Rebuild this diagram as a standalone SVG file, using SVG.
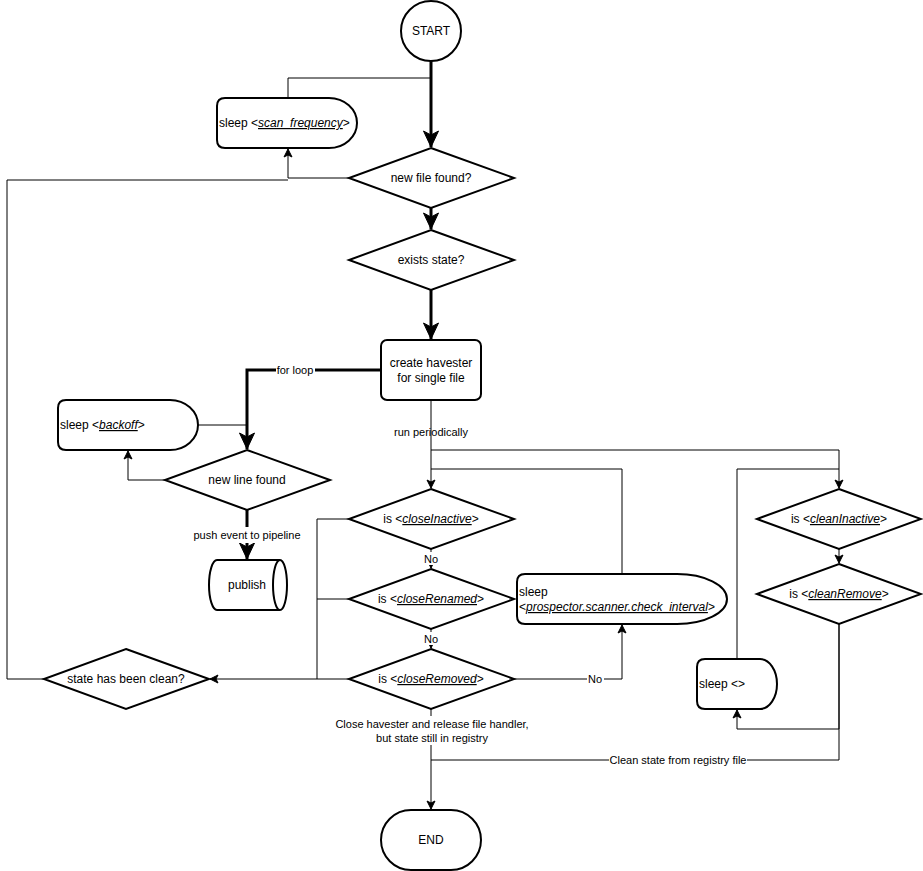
<svg xmlns="http://www.w3.org/2000/svg" width="923" height="871" viewBox="0 0 923 871">
<style>
.s{fill:#fff;stroke:#000;stroke-width:2}
.e{fill:none;stroke:#000;stroke-width:1}
.t{fill:none;stroke:#000;stroke-width:3}
text{font-family:"Liberation Sans",Arial,sans-serif;font-size:12px;fill:#000}
.c{text-anchor:middle}
.l{font-size:11px;text-anchor:middle}
.u{font-style:italic;text-decoration:underline}
.bg{fill:#fff;stroke:none}
</style>
<defs>
<marker id="a" markerUnits="userSpaceOnUse" markerWidth="10" markerHeight="10" refX="9" refY="5" orient="auto" viewBox="0 0 10 10">
<path d="M1,1 L9,5 L1,9 L3,5 Z" fill="#000" stroke="#000" stroke-width="1"/>
</marker>
<marker id="b" markerUnits="userSpaceOnUse" markerWidth="18" markerHeight="18" refX="17" refY="9" orient="auto" viewBox="0 0 18 18">
<path d="M1,1.5 L17,9 L1,16.5 L5,9 Z" fill="#000" stroke="#000" stroke-width="1"/>
</marker>
</defs>
<g id="connectors">
<path class="t" d="M431,61 L431,147" marker-end="url(#b)"/>
<path class="e" d="M288,98 L288,78 L431,78"/>
<path class="e" d="M349,178 L288,178 L288,149" marker-end="url(#a)"/>
<path class="e" d="M44,679 L7,679 L7,180 L288,180"/>
<path class="t" d="M431,208 L431,229" marker-end="url(#b)"/>
<path class="t" d="M431,290 L431,339" marker-end="url(#b)"/>
<path class="t" d="M381,370 L247,370 L247,449" marker-end="url(#b)"/>
<path class="e" d="M198,425 L247,425"/>
<path class="e" d="M165,480 L128,480 L128,451" marker-end="url(#a)"/>
<path class="t" d="M247,510 L247,559" marker-end="url(#b)"/>
<path class="e" d="M431,400 L431,488" marker-end="url(#a)"/>
<path class="e" d="M431,450 L839,450 L839,488" marker-end="url(#a)"/>
<path class="e" d="M622,574 L622,469 L431,469"/>
<path class="e" d="M431,549 L431,568" marker-end="url(#a)"/>
<path class="e" d="M431,629 L431,648" marker-end="url(#a)"/>
<path class="e" d="M349,519 L317,519 L317,679"/>
<path class="e" d="M349,599 L317,599"/>
<path class="e" d="M349,679 L210,679" marker-end="url(#a)"/>
<path class="e" d="M514,679 L622,679 L622,625" marker-end="url(#a)"/>
<path class="e" d="M431,709 L431,809" marker-end="url(#a)"/>
<path class="e" d="M839,624 L839,760 L431,760"/>
<path class="e" d="M839,624 L839,729 L737,729 L737,710" marker-end="url(#a)"/>
<path class="e" d="M737,659 L737,469 L839,469"/>
<path class="e" d="M839,549 L839,563" marker-end="url(#a)"/>
<rect class="bg" x="276" y="363" width="39" height="14"/>
<text class="l" x="295" y="374">for loop</text>
<text class="l" x="431" y="436">run periodically</text>
<rect class="bg" x="192" y="527" width="110" height="16"/>
<text class="l" x="247" y="539">push event to pipeline</text>
<rect class="bg" x="423" y="552" width="16" height="13"/>
<text class="l" x="431" y="563">No</text>
<rect class="bg" x="423" y="632" width="16" height="13"/>
<text class="l" x="431" y="643">No</text>
<rect class="bg" x="587" y="672" width="17" height="14"/>
<text class="l" x="595" y="683">No</text>
<rect class="bg" x="334" y="716" width="196" height="29"/>
<text class="l" x="432" y="728">Close havester and release file handler,</text>
<text class="l" x="432" y="742">but state still in registry</text>
<rect class="bg" x="609" y="753" width="138" height="14"/>
<text class="l" x="678" y="764">Clean state from registry file</text>
</g>
<g id="start">
<circle class="s" cx="431" cy="31" r="30"/>
<text class="c" x="431" y="35">START</text>
</g>
<g id="sleep-scan">
<path class="s" d="M225,98 L329,98 A28,25 0 0 1 329,148 L225,148 Q217,148 217,140 L217,106 Q217,98 225,98 Z"/>
<text x="219" y="127">sleep &lt;<tspan class="u">scan_frequency</tspan>&gt;</text>
</g>
<g id="new-file">
<path class="s" d="M431,148 L514,178 L431,208 L349,178 Z"/>
<text class="c" x="431" y="182">new file found?</text>
</g>
<g id="exists-state">
<path class="s" d="M431,230 L514,260 L431,290 L349,260 Z"/>
<text class="c" x="431" y="264">exists state?</text>
</g>
<g id="create">
<rect class="s" x="381" y="340" width="100" height="60" rx="6"/>
<text class="c" x="431" y="367">create havester</text>
<text class="c" x="431" y="382">for single file</text>
</g>
<g id="sleep-backoff">
<path class="s" d="M66,400 L170,400 A28,25 0 0 1 170,450 L66,450 Q58,450 58,442 L58,408 Q58,400 66,400 Z"/>
<text x="60" y="429">sleep &lt;<tspan class="u">backoff</tspan>&gt;</text>
</g>
<g id="new-line">
<path class="s" d="M247,450 L330,480 L247,510 L165,480 Z"/>
<text class="c" x="247" y="484">new line found</text>
</g>
<g id="publish">
<path class="s" d="M217,560 L280,560 A7,25 0 0 1 280,610 L217,610 A8,25 0 0 1 217,560 Z"/>
<path class="s" d="M280,560 A7,25 0 0 0 280,610" fill="none"/>
<text class="c" x="247" y="589">publish</text>
</g>
<g id="close-inactive">
<path class="s" d="M431,489 L514,519 L431,549 L349,519 Z"/>
<text class="c" x="431" y="523">is &lt;<tspan class="u">closeInactive</tspan>&gt;</text>
</g>
<g id="close-renamed">
<path class="s" d="M431,569 L514,599 L431,629 L349,599 Z"/>
<text class="c" x="431" y="603">is &lt;<tspan class="u">closeRenamed</tspan>&gt;</text>
</g>
<g id="close-removed">
<path class="s" d="M431,649 L514,679 L431,709 L349,679 Z"/>
<text class="c" x="431" y="683">is &lt;<tspan class="u">closeRemoved</tspan>&gt;</text>
</g>
<g id="sleep-check">
<path class="s" d="M525,574 L677,574 A50,25 0 0 1 677,624 L525,624 Q517,624 517,616 L517,582 Q517,574 525,574 Z"/>
<text x="519" y="596">sleep</text>
<text x="519" y="611">&lt;<tspan class="u">prospector.scanner.check_interval</tspan>&gt;</text>
</g>
<g id="state-clean">
<path class="s" d="M126,649 L209,679 L126,709 L44,679 Z"/>
<text class="c" x="126" y="683">state has been clean?</text>
</g>
<g id="clean-inactive">
<path class="s" d="M839,489 L921,519 L839,549 L757,519 Z"/>
<text class="c" x="839" y="523">is &lt;<tspan class="u">cleanInactive</tspan>&gt;</text>
</g>
<g id="clean-remove">
<path class="s" d="M839,564 L921,594 L839,624 L757,594 Z"/>
<text class="c" x="839" y="598">is &lt;<tspan class="u">cleanRemove</tspan>&gt;</text>
</g>
<g id="sleep-empty">
<path class="s" d="M705,659 L760,659 A17,25 0 0 1 760,709 L705,709 Q697,709 697,701 L697,667 Q697,659 705,659 Z"/>
<text x="699" y="688">sleep &lt;&gt;</text>
</g>
<g id="end">
<rect class="s" x="381" y="810" width="100" height="60" rx="30"/>
<text class="c" x="431" y="844">END</text>
</g>
</svg>
